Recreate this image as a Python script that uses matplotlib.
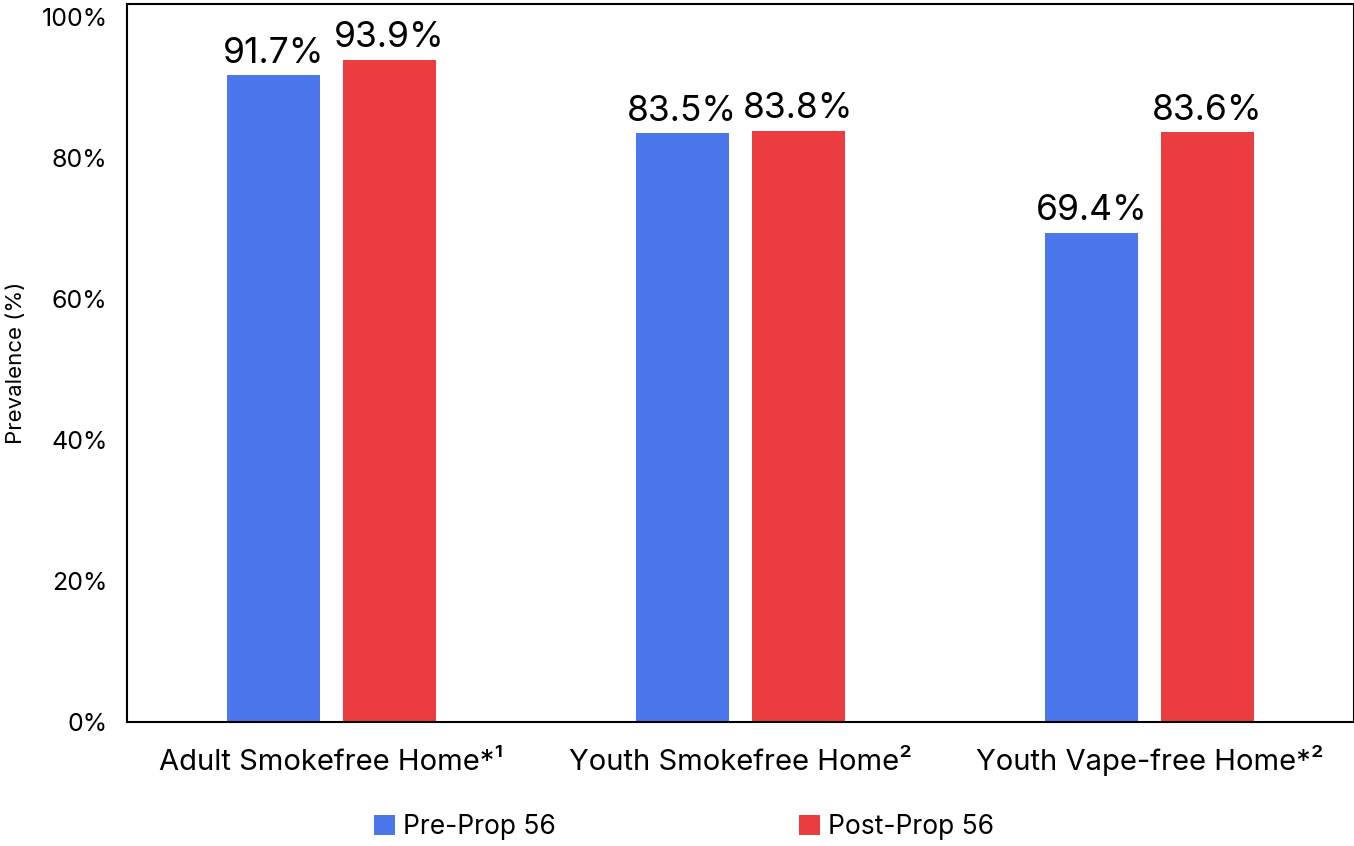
import matplotlib
matplotlib.use("Agg")
import matplotlib.pyplot as plt
import numpy as np

plt.rcParams['font.family'] = ['Inter', 'DejaVu Sans']

categories = ["Adult Smokefree Home*¹", "Youth Smokefree Home²", "Youth Vape-free Home*²"]
pre_prop = [91.7, 83.5, 69.4]
post_prop = [93.9, 83.8, 83.6]
series_names = ["Pre-Prop 56", "Post-Prop 56"]
yticks = [0, 20, 40, 60, 80, 100]

blue = "#4a78ec"
red = "#eb3d40"

fig = plt.figure(figsize=(13.54, 8.46), dpi=100)
ax = fig.add_axes([127 / 1354, 1 - 722 / 846, 1227 / 1354, 718 / 846])

x = np.arange(len(categories))
width = 0.227
offset = 0.142

b1 = ax.bar(x - offset, pre_prop, width, color=blue, label=series_names[0])
b2 = ax.bar(x + offset, post_prop, width, color=red, label=series_names[1])

for bars, vals in ((b1, pre_prop), (b2, post_prop)):
    for bar, v in zip(bars, vals):
        ax.annotate(f"{v:.1f}%", (bar.get_x() + bar.get_width() / 2, v),
                    xytext=(0, 4), textcoords="offset points",
                    ha="center", va="bottom", fontsize=25.5)

ax.set_xlim(-0.5, 2.5)
ax.set_ylim(0, 101.8)
ax.set_yticks(yticks)
ax.set_yticklabels([f"{t}%" for t in yticks], fontsize=18)
ax.set_xticks(x)
ax.set_xticklabels(categories, fontsize=21)
# put category labels on one baseline
for lbl in ax.get_xticklabels():
    lbl.set_verticalalignment("baseline")
ax.tick_params(axis="x", length=0, pad=34.5)
ax.tick_params(axis="y", length=0, pad=14)
ax.set_ylabel("Prevalence (%)", fontsize=16)
ax.yaxis.set_label_coords(-0.082, 0.5)

for s in ax.spines.values():
    s.set_linewidth(1.5)
    s.set_color("black")

leg = fig.legend(loc="center", bbox_to_anchor=(684 / 1354, 1 - 827 / 846), ncol=2,
                 frameon=False, fontsize=19, handlelength=0.8, handleheight=0.8,
                 handletextpad=0.3, columnspacing=9.2)

fig.savefig("out.png", dpi=100)
